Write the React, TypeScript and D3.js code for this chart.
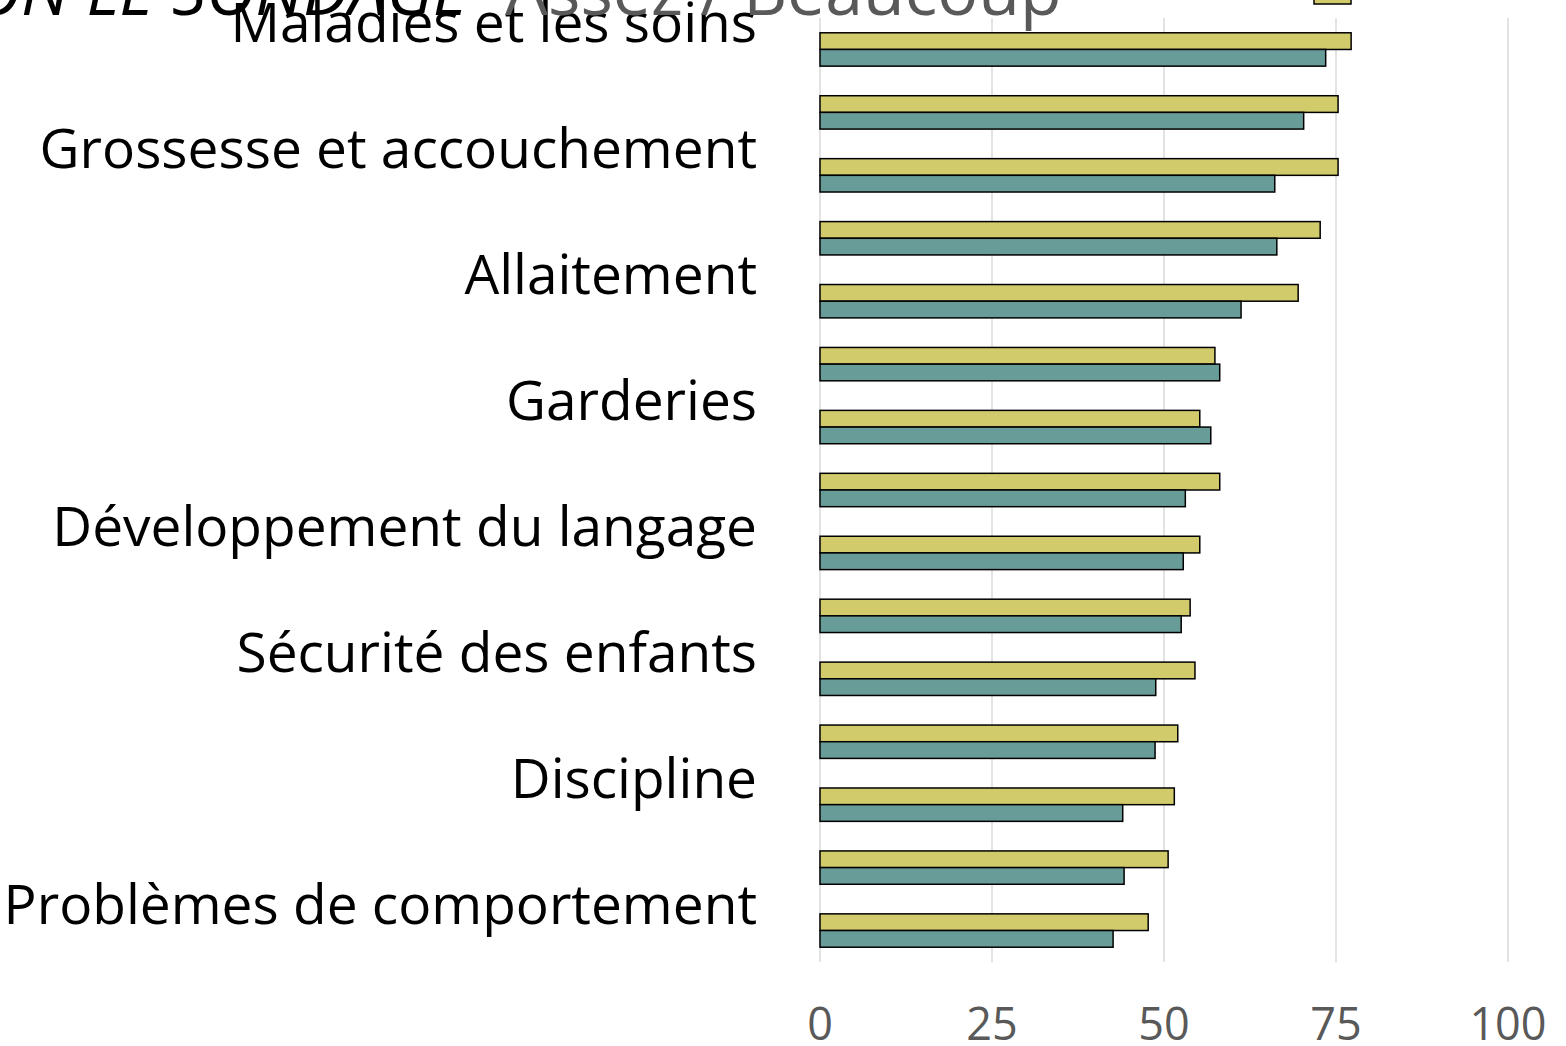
import React from "react";
import * as d3 from "d3";

const categoryLabels = [
  "Maladies et les soins",
  "",
  "Grossesse et accouchement",
  "",
  "Allaitement",
  "",
  "Garderies",
  "",
  "Développement du langage",
  "",
  "Sécurité des enfants",
  "",
  "Discipline",
  "",
  "Problèmes de comportement",
];
const yellowValues = [77.2, 75.3, 75.3, 72.7, 69.5, 57.4, 55.2, 58.1, 55.2, 53.8, 54.5, 52.0, 51.5, 50.6, 47.7];
const tealValues = [73.5, 70.3, 66.1, 66.4, 61.2, 58.1, 56.8, 53.1, 52.8, 52.5, 48.8, 48.7, 44.0, 44.2, 42.6];
const xTicks = [0, 25, 50, 75, 100];
const titleMain = "SELON LE SONDAGE";
const titleSub = "Assez / Beaucoup";

const W = 1566;
const H = 1046;
const YELLOW = "#d2cb6c";
const TEAL = "#689c98";
const FONT = "'Open Sans', 'Noto Sans', sans-serif";

export default function App() {
  const x = d3.scaleLinear().domain([0, 100]).range([820, 1508]);
  const idx = categoryLabels.map((_, i) => i);
  const y = d3
    .scaleBand<number>()
    .domain(idx)
    .range([18, 962])
    .paddingInner(0.47)
    .paddingOuter(0.235);
  const sub = d3.scaleBand<string>().domain(["y", "t"]).range([0, y.bandwidth()]);

  return (
    <svg
      width={W}
      height={H}
      style={{ position: "absolute", left: 0, top: 0, background: "#fff" }}
    >
      {xTicks.map((t) => (
        <line
          key={"g" + t}
          x1={x(t)}
          x2={x(t)}
          y1={18}
          y2={962}
          stroke="#dcdcdc"
          strokeWidth={1.6}
        />
      ))}
      {idx.map((i) => (
        <g key={"b" + i} transform={`translate(0,${y(i)})`}>
          <rect
            x={x(0)}
            y={sub("y")}
            width={x(yellowValues[i]) - x(0)}
            height={sub.bandwidth()}
            fill={YELLOW}
            stroke="#000"
            strokeWidth={1.5}
          />
          <rect
            x={x(0)}
            y={sub("t")}
            width={x(tealValues[i]) - x(0)}
            height={sub.bandwidth()}
            fill={TEAL}
            stroke="#000"
            strokeWidth={1.5}
          />
        </g>
      ))}
      {idx.map((i) =>
        categoryLabels[i] ? (
          <text
            key={"l" + i}
            x={757}
            y={(y(i) as number) + y.bandwidth() / 2 - 7}
            textAnchor="end"
            fontFamily={FONT}
            fontSize={55}
            fill="#000"
          >
            {categoryLabels[i]}
          </text>
        ) : null
      )}
      {xTicks.map((t) => (
        <text
          key={"t" + t}
          x={x(t)}
          y={1040}
          textAnchor="middle"
          fontFamily={FONT}
          fontSize={45}
          fill="#595959"
        >
          {t}
        </text>
      ))}
      <text
        x={468}
        y={15}
        textAnchor="end"
        fontFamily={FONT}
        fontStyle="italic"
        fontSize={68}
        fill="#000"
      >
        {titleMain}
      </text>
      <text x={505} y={15} fontFamily={FONT} fontSize={68} fill="#595959">
        {titleSub}
      </text>
      <rect x={1314} y={-30} width={37} height={34} fill={YELLOW} stroke="#000" strokeWidth={1.5} />
    </svg>
  );
}
